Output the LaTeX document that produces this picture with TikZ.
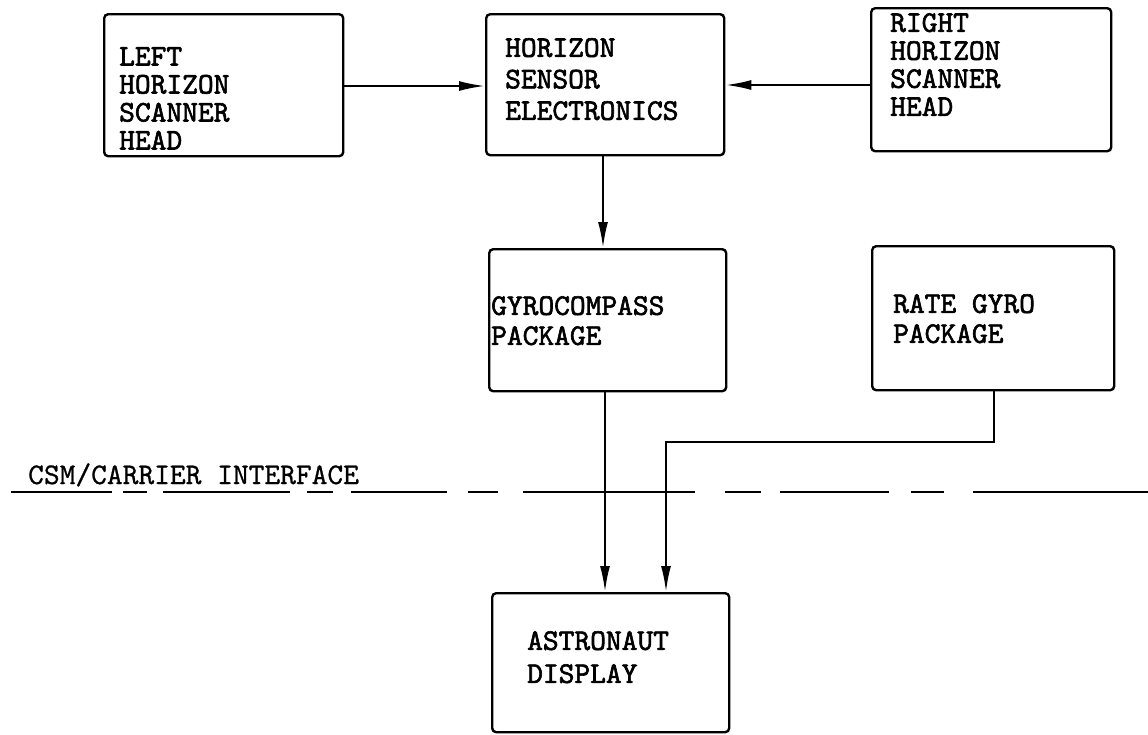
\documentclass[tikz,border=0pt]{standalone}
\usepackage{fontspec}
\newfontfamily\twbold{lmmono10-regular.otf}[FakeBold=2]
\newfontfamily\twreg{lmmono10-regular.otf}[FakeBold=0.8]
\usetikzlibrary{arrows.meta}
\begin{document}
\begin{tikzpicture}[x=1pt,y=-1pt,
  blk/.style={draw, line width=2.4pt, rounded corners=4pt, inner sep=0pt, anchor=north west},
  txt/.style={anchor=north west, inner sep=0pt, align=left, font=\fontsize{30pt}{#1}\selectfont\twbold},
  conn/.style={line width=2.2pt, -{Latex[length=26pt,width=10pt]}},
]
\fill[white] (0,0) rectangle (1148,734);
\useasboundingbox (0,0) rectangle (1148,734);

% boxes
\node[blk, minimum width=239pt, minimum height=142pt] (L) at (103,13) {};
\node[blk, minimum width=238pt, minimum height=141pt] (E) at (485,13) {};
\node[blk, minimum width=240pt, minimum height=143pt] (R) at (870,7) {};
\node[blk, minimum width=237pt, minimum height=142pt] (G) at (488,248) {};
\node[blk, minimum width=242pt, minimum height=144pt] (RG) at (871,245) {};
\node[blk, minimum width=237pt, minimum height=139pt] (D) at (491,592) {};

% texts
\node[txt=28pt] (Lt) at (119,47) {LEFT\\HORIZON\\SCANNER\\HEAD};
\node[txt=31.5pt] (Et) at (505,38) {HORIZON\\SENSOR\\ELECTRONICS};
\node[txt=28pt] (Rt) at (890,13) {RIGHT\\HORIZON\\SCANNER\\HEAD};
\node[txt=30pt] (Gt) at (491,296) {GYROCOMPASS\\PACKAGE};
\node[txt=30pt] (RGt) at (893,294) {RATE GYRO\\PACKAGE};
\node[txt=33pt] (Dt) at (527,631) {ASTRONAUT\\DISPLAY};
\node[anchor=north west, inner sep=0pt, font=\fontsize{30pt}{36pt}\selectfont\twreg] (csm) at (28,463) {CSM/CARRIER INTERFACE};

% interface line
\draw[line width=2.8pt, dash pattern=on 101pt off 11pt on 24pt off 16pt on 127pt off 17pt on 26pt off 18pt on 96pt off 21pt on 30pt off 25pt on 172pt off 30pt on 36pt off 19pt on 109pt off 22pt on 33pt off 29pt on 175pt off 10pt] (11,492) -- (1148,492);

% connectors
\draw[conn] (L.east |- 0,86) -- (E.west |- 0,86);
\draw[conn] (R.west |- 0,85) -- (E.east |- 0,85);
\draw[conn] (E.south -| 603,0) -- (G.north -| 603,0);
\draw[conn] (G.south -| 605,0) -- (D.north -| 605,0);
\coordinate (b1) at (994,442);
\coordinate (b2) at (666,442);
\draw[conn] (RG.south -| b1) -- (b1) -- (b2) -- (D.north -| b2);
\end{tikzpicture}
\end{document}
